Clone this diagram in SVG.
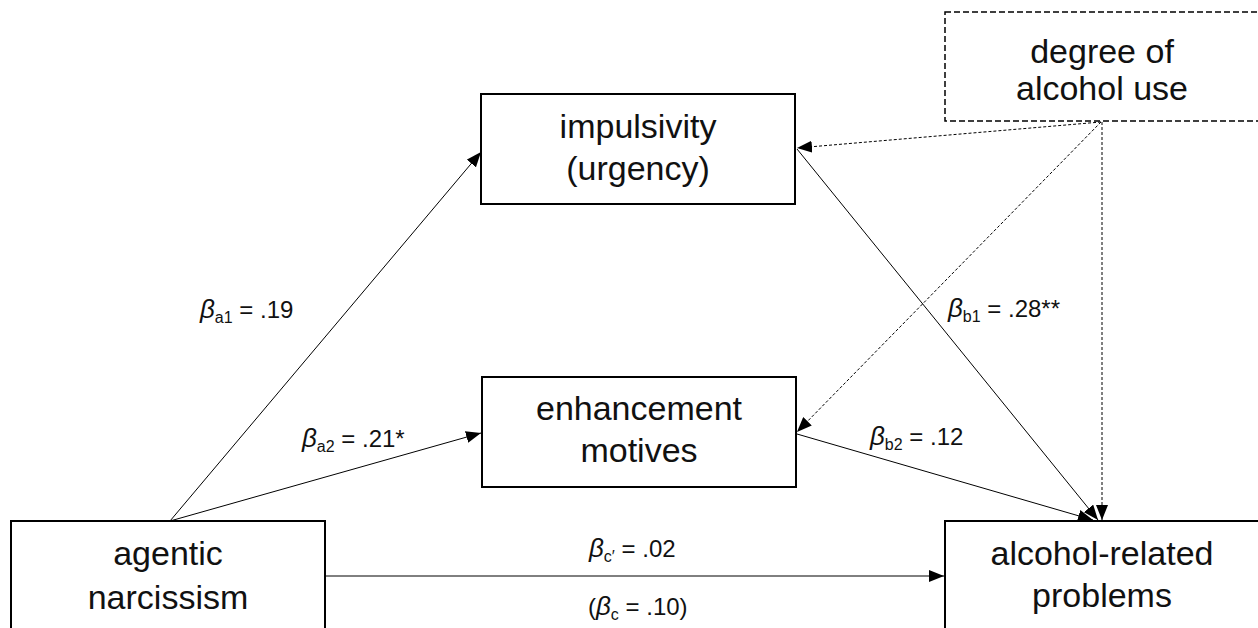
<svg xmlns="http://www.w3.org/2000/svg" width="1258" height="628" viewBox="0 0 1258 628">
<style>
.box{fill:#fff;stroke:#000;stroke-width:2}
.dbox{fill:#fff;stroke:#000;stroke-width:1.5;stroke-dasharray:6 3}
.lbl{font-family:"Liberation Sans",Arial,sans-serif;font-size:34px;fill:#111;text-anchor:middle}
.coef{font-family:"Liberation Sans",Arial,sans-serif;font-size:24px;fill:#111}
.b{font-style:italic;font-size:26px}
.sub{font-size:16px}
.solid{stroke:#000;stroke-width:1;fill:none;marker-end:url(#ah)}
.dash{stroke:#000;stroke-width:1;fill:none;stroke-dasharray:3 2;marker-end:url(#ah)}
</style>
<defs>
<marker id="ah" markerUnits="userSpaceOnUse" markerWidth="16" markerHeight="12" refX="15" refY="6" orient="auto">
<path d="M0,0 L15,6 L0,12 z" fill="#000"/>
</marker>
</defs>
<rect width="1258" height="628" fill="#fff"/>
<g id="connectors">
<line class="solid" x1="170" y1="521" x2="481" y2="152"/>
<line class="solid" x1="170" y1="521" x2="481" y2="433"/>
<line class="solid" x1="326" y1="576" x2="944" y2="576"/>
<line class="dash" x1="1101" y1="122" x2="797" y2="148"/>
<line class="dash" x1="1101" y1="122" x2="797" y2="432"/>
<line class="dash" x1="1102" y1="122" x2="1102" y2="520"/>
<line class="solid" x1="797" y1="149" x2="1098" y2="520"/>
<line class="solid" x1="797" y1="434" x2="1093" y2="520"/>
</g>
<g id="agentic">
<rect class="box" x="11" y="521" width="314" height="120"/>
<text class="lbl" x="168" y="565">agentic</text>
<text class="lbl" x="168" y="609">narcissism</text>
</g>
<g id="impulsivity">
<rect class="box" x="481" y="94" width="314" height="110"/>
<text class="lbl" x="638" y="138">impulsivity</text>
<text class="lbl" x="638" y="180">(urgency)</text>
</g>
<g id="enhancement">
<rect class="box" x="482" y="377" width="314" height="110"/>
<text class="lbl" x="639" y="420">enhancement</text>
<text class="lbl" x="639" y="462">motives</text>
</g>
<g id="degree">
<rect class="dbox" x="945" y="12" width="320" height="109"/>
<text class="lbl" x="1102" y="63">degree of</text>
<text class="lbl" x="1102" y="100">alcohol use</text>
</g>
<g id="problems">
<rect class="box" x="945" y="521" width="320" height="120"/>
<text class="lbl" x="1102" y="565">alcohol-related</text>
<text class="lbl" x="1102" y="607">problems</text>
</g>
<g id="labels">
<text class="coef" x="200" y="318"><tspan class="b">β</tspan><tspan class="sub" dy="5">a1</tspan><tspan dy="-5"> = .19</tspan></text>
<text class="coef" x="302" y="447"><tspan class="b">β</tspan><tspan class="sub" dy="5">a2</tspan><tspan dy="-5"> = .21*</tspan></text>
<text class="coef" x="948" y="317"><tspan class="b">β</tspan><tspan class="sub" dy="5">b1</tspan><tspan dy="-5"> = .28**</tspan></text>
<text class="coef" x="870" y="445"><tspan class="b">β</tspan><tspan class="sub" dy="5">b2</tspan><tspan dy="-5"> = .12</tspan></text>
<text class="coef" x="589" y="557"><tspan class="b">β</tspan><tspan class="sub" dy="5">c′</tspan><tspan dy="-5"> = .02</tspan></text>
<text class="coef" x="588" y="615">(<tspan class="b">β</tspan><tspan class="sub" dy="5">c</tspan><tspan dy="-5"> = .10)</tspan></text>
</g>
</svg>
